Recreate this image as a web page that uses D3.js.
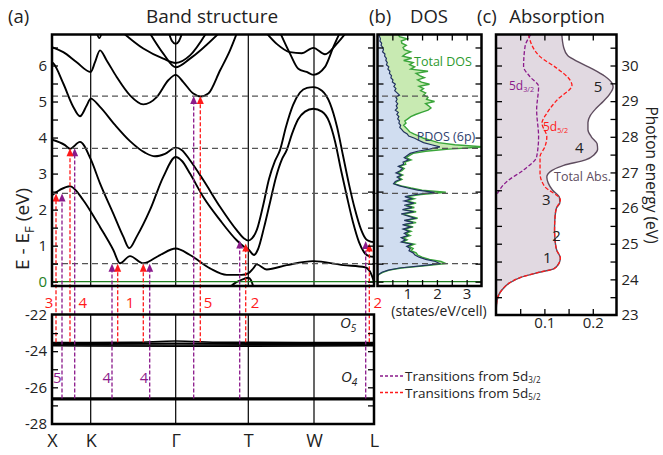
<!DOCTYPE html>
<html>
<head>
<meta charset="utf-8">
<script src="https://cdn.jsdelivr.net/npm/d3@7"></script>
<style>
  body { margin: 0; background: #fff; }
  text { font-family: "Open Sans", "Noto Sans", sans-serif; }
</style>
</head>
<body>
<svg id="chart" width="663" height="455"></svg>
<script>
// ---- data ----
var symLabels = ["X", "K", "Γ", "T", "W", "L"];
var symK = [0, 0.387, 1.237, 1.963, 2.62, 3.22];
var refLevels = [0.5, 2.45, 3.7, 5.15];

// conduction bands, [k, E-EF]
var bandA = [[1.74, -0.25], [1.84, -0.02], [1.92, 0.08], [1.963, 0.11], [1.99, 0.04], [2.025, -0.25]];
var bandB = [[0, 2.40], [0.08, 2.55], [0.18, 2.65], [0.313, 2.26], [0.387, 1.95], [0.48, 1.52], [0.613, 0.88],
  [0.68, 0.51], [0.78, 0.71], [0.913, 0.51], [1.08, 0.74], [1.237, 0.92], [1.38, 0.74], [1.58, 0.37],
  [1.747, 0.19], [1.897, 0.19], [1.963, 0.23], [2.013, 0.37], [2.047, 0.48], [2.147, 0.34], [2.347, 0.46],
  [2.613, 0.57], [2.913, 0.46], [3.13, 0.40], [3.18, 0.28], [3.22, 0.0]];
var bandC = [[0, 3.94], [0.13, 3.79], [0.18, 3.69], [0.28, 3.88], [0.387, 3.40], [0.48, 2.73], [0.613, 1.89],
  [0.713, 1.25], [0.773, 0.93], [0.847, 1.25], [0.98, 1.99], [1.113, 2.91], [1.237, 3.46], [1.30, 3.35],
  [1.38, 3.0], [1.513, 2.35], [1.68, 1.71], [1.847, 1.15], [1.92, 0.97], [1.963, 0.90], [2.02, 0.74],
  [2.06, 0.90], [2.12, 1.5], [2.18, 2.2], [2.24, 2.9], [2.30, 3.4], [2.347, 3.65], [2.40, 4.1], [2.46, 4.5],
  [2.53, 4.72], [2.613, 4.80], [2.70, 4.72], [2.77, 4.45], [2.83, 3.9], [2.89, 3.1], [2.95, 2.35],
  [3.01, 1.65], [3.07, 1.1], [3.12, 0.82], [3.17, 0.71], [3.22, 0.69]];
var bandD = [[0, 6.09], [0.016, 6.05], [0.113, 5.5], [0.213, 4.85], [0.28, 4.59], [0.347, 4.89], [0.387, 5.08],
  [0.48, 4.85], [0.63, 4.35], [0.78, 3.9], [0.93, 3.58], [1.03, 3.48], [1.13, 3.55], [1.237, 3.72],
  [1.30, 3.65], [1.38, 3.37], [1.513, 2.82], [1.68, 2.08], [1.847, 1.43], [1.92, 1.2], [1.963, 1.14],
  [2.0, 1.2], [2.05, 1.45], [2.11, 2.1], [2.17, 2.85], [2.23, 3.35], [2.28, 3.65], [2.34, 4.3], [2.41, 4.9],
  [2.48, 5.25], [2.55, 5.38], [2.613, 5.40], [2.70, 5.3], [2.78, 4.95], [2.85, 4.3], [2.91, 3.5],
  [2.97, 2.7], [3.03, 2.0], [3.09, 1.45], [3.14, 1.18], [3.18, 1.12], [3.22, 1.10]];
var bandE = [[0, 6.51], [0.113, 6.37], [0.247, 6.09], [0.387, 5.82], [0.43, 6.09], [0.48, 6.42], [0.547, 6.14],
  [0.647, 5.68], [0.78, 5.17], [0.913, 4.92], [1.047, 5.12], [1.163, 5.59], [1.237, 5.74], [1.313, 5.54],
  [1.413, 5.22], [1.487, 5.14], [1.563, 5.22], [1.68, 5.86], [1.78, 6.42], [1.86, 6.98]];
var bandF1 = [[0.68, 6.98], [0.913, 6.47], [1.113, 6.19], [1.237, 6.07], [1.38, 6.28], [1.56, 6.98]];
var bandF2 = [[0.96, 6.98], [1.113, 6.33], [1.237, 5.95], [1.38, 6.19], [1.70, 6.98]];
var bandU = [[1.16, 6.98], [1.20, 6.68], [1.237, 6.60], [1.27, 6.68], [1.31, 6.98]];
var bandV = [[0.44, 6.98], [0.473, 6.76], [0.505, 6.98]];
var bandG1 = [[2.12, 6.98], [2.247, 6.6], [2.38, 6.37], [2.497, 6.34], [2.613, 6.49], [2.73, 6.31],
  [2.847, 6.6], [2.96, 6.98]];
var bandG2 = [[2.27, 6.98], [2.38, 6.33], [2.463, 5.91], [2.547, 5.82], [2.613, 5.74], [2.73, 5.96],
  [2.813, 6.51], [2.89, 6.98]];
var bands = [bandA, bandB, bandC, bandD, bandE, bandF1, bandF2, bandU, bandV, bandG1, bandG2];

// semicore 5d bands
var o5Bands = [
  [[0, -23.52], [0.8, -23.51], [1.237, -23.44], [1.7, -23.51], [3.22, -23.52]],
  [[0, -23.58], [1.237, -23.56], [3.22, -23.58]],
  [[0, -23.64], [1.237, -23.66], [3.22, -23.64]],
  [[0, -23.70], [1.237, -23.73], [3.22, -23.70]]
];
var o4Bands = [
  [[0, -26.60], [3.22, -26.60]],
  [[0, -26.68], [3.22, -26.68]]
];

// transitions
var trans52K = [0.04, 0.18, 0.657, 0.913, 1.483, 1.937, 3.173];
var trans52E = [2.45, 3.70, 0.50, 0.50, 5.15, 1.06, 1.06];
var trans32K = [0.10, 0.227, 0.60, 0.977, 1.417, 1.877, 3.137];
var trans32E = [2.45, 3.70, 0.50, 0.50, 5.15, 1.14, 1.13];
var start52 = -23.5, start32 = -26.62;
var peak52Labels = ["3", "4", "1", "5", "2", "2"];
var peak52LabelK = [-0.03, 0.307, 0.78, 1.56, 2.03, 3.257];
var peak32Labels = ["5", "4", "4"];
var peak32LabelK = [0.053, 0.547, 0.92];

// DOS
var dosE = [6.86, 6.80, 6.74, 6.68, 6.62, 6.56, 6.50, 6.44, 6.38, 6.32, 6.26, 6.20, 6.14, 6.08, 6.02, 5.96,
  5.90, 5.84, 5.78, 5.72, 5.66, 5.60, 5.54, 5.48, 5.42, 5.36, 5.30, 5.24, 5.18, 5.12, 5.06, 5.00, 4.94, 4.88,
  4.82, 4.76, 4.70, 4.64, 4.58, 4.52, 4.46, 4.40, 4.34, 4.28, 4.22, 4.16, 4.10, 4.04, 3.98, 3.92, 3.86, 3.80,
  3.74, 3.68, 3.62, 3.56, 3.50, 3.44, 3.38, 3.32, 3.26, 3.20, 3.14, 3.08, 3.02, 2.96, 2.90, 2.84, 2.78, 2.72,
  2.66, 2.60, 2.54, 2.48, 2.42, 2.36, 2.30, 2.24, 2.18, 2.12, 2.06, 2.00, 1.94, 1.88, 1.82, 1.76, 1.70, 1.64,
  1.58, 1.52, 1.46, 1.40, 1.34, 1.28, 1.22, 1.16, 1.10, 1.04, 0.98, 0.92, 0.86, 0.80, 0.74, 0.68, 0.62, 0.56,
  0.50, 0.44, 0.38, 0.32, 0.26, 0.20, 0.14, -0.12];
var dosTotal = [0.70, 0.74, 1.00, 0.80, 0.82, 0.97, 0.86, 0.90, 1.12, 0.95, 0.85, 1.15, 0.88, 1.20, 1.08, 1.25,
  1.12, 1.70, 1.30, 1.42, 1.58, 1.35, 1.48, 1.75, 1.40, 1.55, 1.45, 1.62, 1.55, 1.70, 1.65, 1.92, 1.62, 1.72,
  1.80, 1.70, 1.48, 1.28, 1.12, 1.02, 0.92, 0.96, 0.88, 0.95, 1.02, 1.08, 1.22, 1.40, 1.55, 1.80, 2.05, 2.60,
  3.60, 2.40, 1.62, 1.20, 1.07, 0.96, 1.13, 0.92, 0.95, 0.74, 0.90, 0.82, 0.68, 0.85, 0.70, 0.82, 0.65, 0.57,
  0.80, 1.13, 1.50, 2.30, 1.46, 1.00, 1.24, 0.96, 1.30, 0.96, 1.24, 0.90, 1.30, 0.85, 1.10, 1.35, 0.96, 1.30,
  0.90, 1.20, 0.91, 1.13, 0.96, 1.10, 0.85, 1.00, 0.86, 1.24, 1.05, 1.20, 1.13, 1.30, 1.35, 1.50, 1.75, 2.14,
  2.30, 1.58, 0.80, 0.40, 0.18, 0.05, 0.00, 0.00];
var dosPdos = [0.05, 0.07, 0.10, 0.08, 0.14, 0.12, 0.18, 0.20, 0.17, 0.25, 0.24, 0.30, 0.28, 0.33, 0.30, 0.38,
  0.35, 0.42, 0.40, 0.47, 0.45, 0.52, 0.50, 0.60, 0.55, 0.62, 0.58, 0.66, 0.74, 0.62, 0.66, 0.62, 0.68, 0.63,
  0.67, 0.60, 0.70, 0.65, 0.72, 0.68, 0.74, 0.72, 0.78, 0.75, 0.82, 0.88, 1.00, 1.05, 1.25, 1.40, 1.55, 1.82,
  2.10, 1.75, 1.35, 1.10, 1.00, 0.90, 1.05, 0.86, 0.88, 0.70, 0.84, 0.76, 0.62, 0.80, 0.66, 0.77, 0.60, 0.54,
  0.74, 1.02, 1.35, 1.92, 1.30, 0.92, 1.15, 0.90, 1.22, 0.90, 1.16, 0.84, 1.22, 0.80, 1.04, 1.26, 0.90, 1.20,
  0.84, 1.12, 0.86, 1.05, 0.90, 1.02, 0.80, 0.94, 0.80, 1.15, 0.98, 1.10, 1.06, 1.20, 1.26, 1.40, 1.62, 1.95,
  2.10, 1.45, 0.74, 0.36, 0.15, 0.04, 0.00, 0.00];

// absorption
var absTotalE = [30.87, 30.5, 30.28, 30.1, 29.9, 29.7, 29.5, 29.4, 29.2, 29.0, 28.8, 28.6, 28.4, 28.2, 28.0,
  27.8, 27.65, 27.5, 27.35, 27.2, 27.05, 26.87, 26.7, 26.5, 26.3, 26.15, 26.0, 25.75, 25.4, 25.1, 24.8, 24.6,
  24.45, 24.3, 24.2, 24.05, 23.9, 23.7, 23.4, 23.0];
var absTotal = [0.136, 0.14, 0.148, 0.17, 0.20, 0.225, 0.24, 0.242, 0.235, 0.222, 0.207, 0.195, 0.19, 0.19,
  0.197, 0.209, 0.21, 0.203, 0.185, 0.14, 0.115, 0.105, 0.108, 0.117, 0.131, 0.132, 0.125, 0.122, 0.121,
  0.122, 0.126, 0.133, 0.13, 0.12, 0.09, 0.05, 0.028, 0.012, 0.002, 0];
var abs52E = [30.87, 30.25, 29.92, 29.59, 29.45, 29.03, 28.66, 28.38, 28.0, 27.72, 27.44, 26.98, 26.6, 26.23,
  26.0, 25.75, 25.4, 25.1, 24.8, 24.6, 24.45, 24.3, 24.2, 24.05, 23.9, 23.7, 23.4, 23.0];
var abs52 = [0.067, 0.091, 0.126, 0.153, 0.157, 0.126, 0.105, 0.095, 0.105, 0.101, 0.091, 0.091, 0.101, 0.133,
  0.125, 0.122, 0.121, 0.122, 0.126, 0.133, 0.13, 0.12, 0.09, 0.05, 0.028, 0.012, 0.002, 0];
var abs32E = [30.87, 30.53, 29.97, 29.69, 29.41, 28.75, 28.0, 27.44, 27.07, 26.74, 26.46, 26.32];
var abs32 = [0.072, 0.06, 0.057, 0.07, 0.088, 0.084, 0.088, 0.084, 0.057, 0.022, 0.005, 0.0];
var absPeakLabels = ["5", "4", "3", "2", "1"];
var absPeakE = [29.4, 27.71, 26.23, 25.24, 24.6];
var absPeakX = [0.211, 0.172, 0.104, 0.125, 0.106];

// ---- layout ----
var svg = d3.select("#chart");
var red = "#ff1a1a", purple = "#8b1a8b";

var xK = d3.scaleLinear().domain([0, 3.22]).range([52, 374]);
var yTop = d3.scaleLinear().domain([-0.12, 6.86]).range([286, 34.5]);
var yBot = d3.scaleLinear().domain([-28.03, -21.97]).range([424, 314.5]);
var xDos = d3.scaleLinear().domain([0, 3.5]).range([377.5, 481.5]);
var xAbs = d3.scaleLinear().domain([0, 0.249]).range([496, 616.5]);
var yAbs = d3.scaleLinear().domain([23, 30.87]).range([315, 34.5]);

var defs = svg.append("defs");
function clip(id, x0, y0, x1, y1) {
  defs.append("clipPath").attr("id", id).append("rect")
    .attr("x", x0).attr("y", y0).attr("width", x1 - x0).attr("height", y1 - y0);
}
clip("clipTop", 52, 34.5, 374, 286);
clip("clipBot", 52, 314.5, 374, 424);
clip("clipDos", 377.5, 34.5, 481.5, 286);
clip("clipAbs", 496, 34.5, 616.5, 315);

function txt(x, y, s, size, color, anchor) {
  return svg.append("text").attr("x", x).attr("y", y).text(s)
    .attr("font-size", size).attr("fill", color || "#222")
    .attr("text-anchor", anchor || "start");
}

// ticks using d3 axes, pointing inward
function ticks(axisFn, scale, tr, vals, size, fmt, fontSize) {
  var ax = axisFn(scale).tickValues(vals).tickSize(size).tickPadding(5)
    .tickFormat(fmt || function () { return ""; });
  var g = svg.append("g").attr("transform", tr).call(ax);
  g.select(".domain").remove();
  g.attr("font-family", null).attr("font-size", fontSize || 15);
  g.selectAll("line").attr("stroke", "#000").attr("stroke-width", 1.3);
  g.selectAll("text").attr("fill", "#222");
  return g;
}
var str = function (d) { return String(d); };

// ---- panel (a) top ----
var gTop = svg.append("g").attr("clip-path", "url(#clipTop)");
gTop.selectAll("line.sym").data(symK.slice(1, 5)).enter().append("line")
  .attr("x1", xK).attr("x2", xK).attr("y1", 34.5).attr("y2", 286)
  .attr("stroke", "#000").attr("stroke-width", 1.2);

var bandLine = d3.line().x(function (d) { return xK(d[0]); }).y(function (d) { return yTop(d[1]); })
  .curve(d3.curveMonotoneX);
gTop.selectAll("path.band").data(bands).enter().append("path")
  .attr("d", bandLine).attr("fill", "none").attr("stroke", "#000").attr("stroke-width", 1.9);

// ---- panel (a) bottom ----
var gBot = svg.append("g").attr("clip-path", "url(#clipBot)");
gBot.selectAll("line.sym").data(symK.slice(1, 5)).enter().append("line")
  .attr("x1", xK).attr("x2", xK).attr("y1", 314.5).attr("y2", 424)
  .attr("stroke", "#000").attr("stroke-width", 1.2);
var semiLine = d3.line().x(function (d) { return xK(d[0]); }).y(function (d) { return yBot(d[1]); })
  .curve(d3.curveMonotoneX);
gBot.selectAll("path.o5").data(o5Bands).enter().append("path")
  .attr("d", semiLine).attr("fill", "none").attr("stroke", "#000").attr("stroke-width", 1.6);
gBot.selectAll("path.o4").data(o4Bands).enter().append("path")
  .attr("d", semiLine).attr("fill", "none").attr("stroke", "#000").attr("stroke-width", 2);

function orbital(x, y, n) {
  var t = svg.append("text").attr("x", x).attr("y", y).attr("font-size", 15).attr("fill", "#222")
    .attr("font-family", "DejaVu Serif").attr("font-style", "italic");
  t.append("tspan").text("O");
  t.append("tspan").text(n).attr("font-size", 10).attr("dy", 4);
}
orbital(xK(2.88), yBot(-22.7), "5");
orbital(xK(2.89), yBot(-25.7), "4");

// ---- panel (b) DOS ----
var gDos = svg.append("g").attr("clip-path", "url(#clipDos)");
var dosIdx = d3.range(dosE.length);
var totalArea = d3.area().y(function (i) { return yTop(dosE[i]); }).x0(xDos(0))
  .x1(function (i) { return xDos(dosTotal[i]); });
var pdosArea = d3.area().y(function (i) { return yTop(dosE[i]); }).x0(xDos(0))
  .x1(function (i) { return xDos(dosPdos[i]); });
gDos.append("path").datum(dosIdx).attr("d", totalArea).attr("fill", "#c8eab2");
gDos.append("path").datum(dosIdx).attr("d", pdosArea).attr("fill", "#d0ddf0");
gDos.append("path").datum(dosIdx).attr("d", totalArea.lineX1()).attr("fill", "none")
  .attr("stroke", "#3aa53a").attr("stroke-width", 1.4);
gDos.append("path").datum(dosIdx).attr("d", pdosArea.lineX1()).attr("fill", "none")
  .attr("stroke", "#22335f").attr("stroke-width", 1.2);

// reference lines across (a) and (b)
svg.selectAll("line.ref").data(refLevels).enter().append("line")
  .attr("x1", 52).attr("x2", 481.5).attr("y1", yTop).attr("y2", yTop)
  .attr("stroke", "#555").attr("stroke-width", 1.3).attr("stroke-dasharray", "6,4");

// Fermi level
svg.append("line").attr("x1", 52).attr("x2", 481.5).attr("y1", yTop(0)).attr("y2", yTop(0))
  .attr("stroke", "#1f7f1f").attr("stroke-width", 1.3);

txt(443, 66, "Total DOS", 12.5, "#2e9a2e", "middle");
txt(446, 141, "PDOS (6p)", 12.5, "#2f3f6f", "middle");

// ---- transitions ----
function arrows(ks, es, startE, color) {
  var g = svg.append("g");
  ks.forEach(function (k, i) {
    var x = xK(k), yTip = yTop(es[i]), y0 = yBot(startE);
    g.append("line").attr("x1", x).attr("x2", x).attr("y1", y0).attr("y2", yTip + 6)
      .attr("stroke", color).attr("stroke-width", 1.3).attr("stroke-dasharray", "4,2");
    g.append("path").attr("d", "M" + x + "," + yTip + "L" + (x - 3.5) + "," + (yTip + 8) +
      "L" + (x + 3.5) + "," + (yTip + 8) + "Z").attr("fill", color);
  });
}
arrows(trans32K, trans32E, start32, purple);
arrows(trans52K, trans52E, start52, red);

peak52Labels.forEach(function (s, i) {
  txt(xK(peak52LabelK[i]), 307.5, s, 15, red, "middle");
});
peak32Labels.forEach(function (s, i) {
  txt(xK(peak32LabelK[i]), 383, s, 15, purple, "middle");
});

// ---- panel (c) absorption ----
var gAbs = svg.append("g").attr("clip-path", "url(#clipAbs)");
var absIdx = d3.range(absTotalE.length);
var absArea = d3.area().y(function (i) { return yAbs(absTotalE[i]); }).x0(xAbs(0))
  .x1(function (i) { return xAbs(absTotal[i]); }).curve(d3.curveMonotoneY);
gAbs.append("path").datum(absIdx).attr("d", absArea).attr("fill", "#e1d9e1");
gAbs.append("path").datum(absIdx).attr("d", absArea.lineX1()).attr("fill", "none")
  .attr("stroke", "#5e4c5e").attr("stroke-width", 1.4);
var l52 = d3.line().x(function (i) { return xAbs(abs52[i]); }).y(function (i) { return yAbs(abs52E[i]); })
  .curve(d3.curveMonotoneY);
var l32 = d3.line().x(function (i) { return xAbs(abs32[i]); }).y(function (i) { return yAbs(abs32E[i]); })
  .curve(d3.curveMonotoneY);
gAbs.append("path").datum(d3.range(abs52E.length)).attr("d", l52).attr("fill", "none")
  .attr("stroke", red).attr("stroke-width", 1.3).attr("stroke-dasharray", "4,2");
gAbs.append("path").datum(d3.range(abs32E.length)).attr("d", l32).attr("fill", "none")
  .attr("stroke", purple).attr("stroke-width", 1.3).attr("stroke-dasharray", "4,2");

absPeakLabels.forEach(function (s, i) {
  txt(xAbs(absPeakX[i]), yAbs(absPeakE[i]) + 5.5, s, 15, "#222", "middle");
});
function subLabel(x, y, base, sub, color, size) {
  var t = svg.append("text").attr("x", x).attr("y", y).attr("font-size", size).attr("fill", color);
  t.append("tspan").text(base);
  t.append("tspan").text(sub).attr("font-size", size * 0.6).attr("dy", 2);
  return t;
}
subLabel(509, 90, "5d", "3/2", purple, 12);
subLabel(543, 131, "5d", "5/2", red, 12);
txt(554, 181, "Total Abs.", 12.5, "#5e4c5e");

// ---- borders ----
[[52, 34.5, 374, 286], [52, 314.5, 374, 424], [377.5, 34.5, 481.5, 286], [496, 34.5, 616.5, 315]]
  .forEach(function (b) {
    svg.append("rect").attr("x", b[0]).attr("y", b[1]).attr("width", b[2] - b[0]).attr("height", b[3] - b[1])
      .attr("fill", "none").attr("stroke", "#000").attr("stroke-width", 2.5);
  });

// ---- axes ----
var halfTop = d3.range(0, 6.51, 0.5);
ticks(d3.axisLeft, yTop, "translate(52,0)", halfTop, -6);
var gl = ticks(d3.axisLeft, yTop, "translate(52,0)", [0, 1, 2, 3, 4, 5, 6], 0, str);
gl.selectAll("text").filter(function (d) { return d === 0; }).attr("fill", "#1f7f1f");
ticks(d3.axisRight, yTop, "translate(374,0)", halfTop, -6);

ticks(d3.axisLeft, yBot, "translate(52,0)", [-23, -24, -25, -26, -27], -6);
ticks(d3.axisLeft, yBot, "translate(52,0)", [-22, -24, -26, -28], 0, str);
ticks(d3.axisRight, yBot, "translate(374,0)", [-23, -24, -25, -26, -27], -6);

var gx = ticks(d3.axisBottom, xK, "translate(0,424)", symK, 0, function (d, i) { return symLabels[i]; }, 18);
gx.selectAll("text").attr("dy", "1.0em");

ticks(d3.axisBottom, xDos, "translate(0,286)", [0.5, 1, 1.5, 2, 2.5, 3], -6);
ticks(d3.axisTop, xDos, "translate(0,34.5)", [0.5, 1, 1.5, 2, 2.5, 3], -6);
var gd = ticks(d3.axisBottom, xDos, "translate(0,286)", [1, 2, 3], 0, str);
gd.selectAll("text").attr("dy", "0.5em");
ticks(d3.axisLeft, yTop, "translate(377.5,0)", halfTop, -6);
ticks(d3.axisRight, yTop, "translate(481.5,0)", halfTop, -6);
txt(439, 316, "(states/eV/cell)", 14, "#222", "middle");

var halfAbs = d3.range(23.5, 30.6, 0.5);
ticks(d3.axisLeft, yAbs, "translate(496,0)", halfAbs, -6);
ticks(d3.axisRight, yAbs, "translate(616.5,0)", halfAbs, -6);
ticks(d3.axisRight, yAbs, "translate(616.5,0)", d3.range(23, 31, 1), 0, str);
ticks(d3.axisBottom, xAbs, "translate(0,315)", [0.05, 0.1, 0.15, 0.2], -6);
ticks(d3.axisTop, xAbs, "translate(0,34.5)", [0.05, 0.1, 0.15, 0.2], -6);
var ga = ticks(d3.axisBottom, xAbs, "translate(0,315)", [0.1, 0.2], 0, str);
ga.selectAll("text").attr("dy", "0.55em");

// ---- titles and axis labels ----
txt(8, 23, "(a)", 18.5);
txt(212, 23, "Band structure", 19, "#222", "middle");
txt(369, 23, "(b)", 18.5);
txt(429, 23, "DOS", 18.5, "#222", "middle");
txt(477, 23, "(c)", 18.5);
txt(557, 23, "Absorption", 18.5, "#222", "middle");

var yl = svg.append("text").attr("transform", "translate(29,229) rotate(-90)")
  .attr("text-anchor", "middle").attr("font-size", 19).attr("fill", "#222");
yl.append("tspan").text("E - E");
yl.append("tspan").text("F").attr("font-size", 13).attr("dy", 5);
yl.append("tspan").text(" (eV)").attr("dy", -5);

svg.append("text").attr("transform", "translate(646,175) rotate(90)")
  .attr("text-anchor", "middle").attr("font-size", 15.5).attr("fill", "#222").text("Photon energy (eV)");

// ---- legend ----
[[purple, "3/2", 376], [red, "5/2", 392.5]].forEach(function (r) {
  svg.append("line").attr("x1", 380).attr("x2", 403).attr("y1", r[2]).attr("y2", r[2])
    .attr("stroke", r[0]).attr("stroke-width", 1.3).attr("stroke-dasharray", "3,2");
  subLabel(405, r[2] + 5, "Transitions from 5d", r[1], "#222", 13.5);
});
</script>
</body>
</html>
